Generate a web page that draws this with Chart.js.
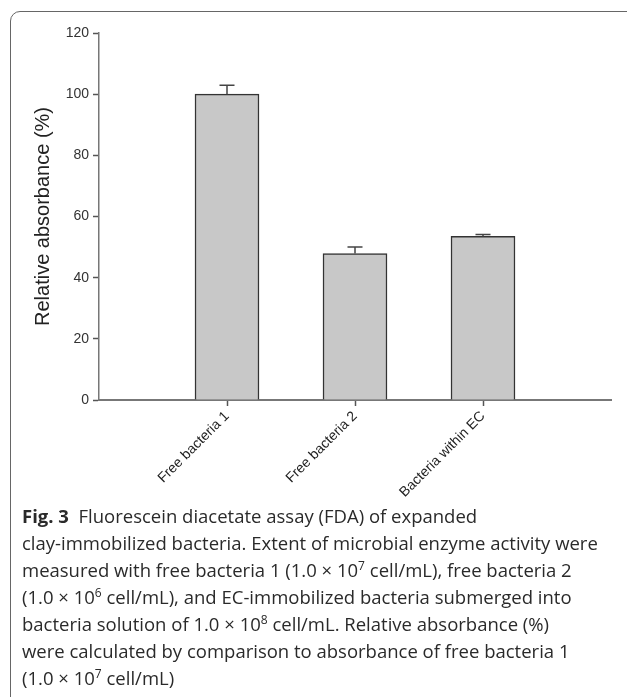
<!DOCTYPE html>
<html>
<head>
<meta charset="utf-8">
<script src="https://cdn.jsdelivr.net/npm/chart.js@4.4.0/dist/chart.umd.min.js"></script>
<style>
  html, body { margin: 0; padding: 0; background: #fff; overflow: hidden; }
  body { width: 627px; height: 697px; position: relative; }
  .frame {
    position: absolute; left: 10px; top: 11px; width: 700px; height: 720px;
    border: 1.5px solid #666; border-radius: 10px;
  }
  .plot { position: absolute; left: 0; top: 0; width: 627px; height: 520px; }
  .caption {
    position: absolute; left: 22px; top: 502px;
    font-family: "Open Sans", sans-serif; font-size: 18.5px; line-height: 27px;
    color: #2a2a2a; white-space: nowrap;
  }
  .caption b { font-weight: 700; }
  .caption sup { font-size: 12px; line-height: 0; vertical-align: 7px; }
</style>
</head>
<body>
<div class="frame"></div>
<div class="plot"><canvas id="chart"></canvas></div>
<div class="caption">
  <b>Fig. 3</b>&nbsp; Fluorescein diacetate assay (FDA) of expanded<br>
  clay-immobilized bacteria. Extent of microbial enzyme activity were<br>
  measured with free bacteria 1 (1.0 × 10<sup>7</sup> cell/mL), free bacteria 2<br>
  (1.0 × 10<sup>6</sup> cell/mL), and EC-immobilized bacteria submerged into<br>
  bacteria solution of 1.0 × 10<sup>8</sup> cell/mL. Relative absorbance (%)<br>
  were calculated by comparison to absorbance of free bacteria 1<br>
  (1.0 × 10<sup>7</sup> cell/mL)
</div>
<script>
// data
const categories = ["Free bacteria 1", "Free bacteria 2", "Bacteria within EC"];
const values = [100, 47.9, 53.5];
const errors = [2.9, 2.1, 0.6];
const yTicks = [0, 20, 40, 60, 80, 100, 120];

// the axis has an empty slot at each end, bars sit on slots 1..3
const labels = ["", ...categories, ""];
const barData = [null, ...values, null];

// upper error bars with caps
const errorBars = {
  id: "errorBars",
  afterDatasetsDraw(chart) {
    const { ctx, scales: { x, y } } = chart;
    ctx.save();
    ctx.strokeStyle = "#444";
    ctx.lineWidth = 1.5;
    values.forEach((v, i) => {
      const px = x.getPixelForValue(i + 1);
      const top = y.getPixelForValue(v + errors[i]);
      const base = y.getPixelForValue(v);
      ctx.beginPath();
      ctx.moveTo(px, base);
      ctx.lineTo(px, top);
      ctx.moveTo(px - 7.5, top);
      ctx.lineTo(px + 7.5, top);
      ctx.stroke();
    });
    ctx.restore();
  },
};

new Chart(document.getElementById("chart"), {
  type: "bar",
  data: {
    labels: labels,
    datasets: [
      {
        data: barData,
        backgroundColor: "#c8c8c8",
        borderColor: "#333",
        borderWidth: 1.5,
        barThickness: 64,
      },
    ],
  },
  plugins: [errorBars],
  options: {
    responsive: true,
    maintainAspectRatio: false,
    animation: false,
    layout: { padding: { top: 33, right: 16, left: 0, bottom: 0 } },
    plugins: { legend: { display: false }, tooltip: { enabled: false } },
    scales: {
      x: {
        offset: false,
        afterFit: (s) => { s.height = 120; s.paddingLeft = 0; s.paddingRight = 0; },
        grid: {
          offset: false,
          drawOnChartArea: false,
          tickLength: 6,
          tickWidth: 1.5,
          tickColor: (c) => (labels[c.index] ? "#555" : "rgba(0,0,0,0)"),
        },
        border: { color: "#777", width: 2 },
        ticks: {
          minRotation: 45,
          maxRotation: 45,
          autoSkip: false,
          padding: 2,
          color: "#222",
          font: { family: "Liberation Sans", size: 14 },
        },
      },
      y: {
        min: 0,
        max: 120,
        afterBuildTicks: (s) => { s.ticks = yTicks.map((v) => ({ value: v })); },
        afterFit: (s) => { s.width = 99; s.paddingTop = 0; s.paddingBottom = 0; },
        grid: { drawOnChartArea: false, tickLength: 6, color: "#555", tickWidth: 1.5 },
        border: { color: "#777", width: 1.5 },
        ticks: {
          padding: 4,
          color: "#333",
          font: { family: "Liberation Sans", size: 14 },
        },
        title: {
          display: true,
          text: "Relative absorbance (%)",
          color: "#222",
          font: { family: "Liberation Sans", size: 20 },
          padding: { top: 31, bottom: 0 },
        },
      },
    },
  },
});
</script>
</body>
</html>
